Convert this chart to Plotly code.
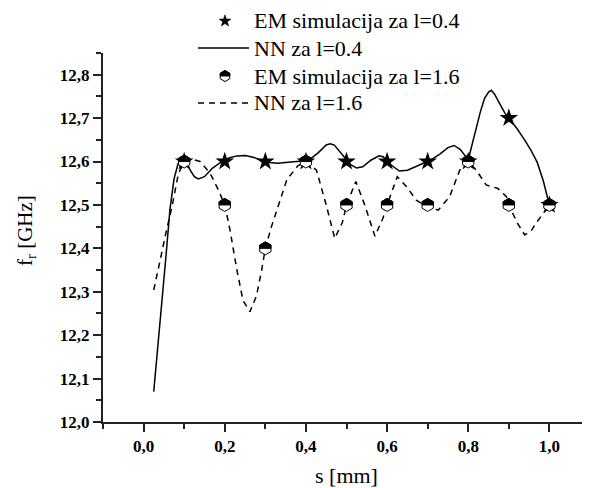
import math
import plotly.graph_objects as go

# EM simulation points
em_s = [0.1, 0.2, 0.3, 0.4, 0.5, 0.6, 0.7, 0.8, 0.9, 1.0]
em_l04 = [12.6, 12.6, 12.6, 12.6, 12.6, 12.6, 12.6, 12.6, 12.7, 12.5]
em_l16 = [12.6, 12.5, 12.4, 12.6, 12.5, 12.5, 12.5, 12.6, 12.5, 12.5]

# NN curve l=0.4
nn04_s = [0.025, 0.04, 0.055, 0.065, 0.075, 0.085, 0.095, 0.105, 0.115, 0.125,
          0.135, 0.15, 0.17, 0.19, 0.21, 0.23, 0.25, 0.27, 0.29, 0.31,
          0.33, 0.35, 0.37, 0.39, 0.41, 0.43, 0.45, 0.46, 0.47, 0.49,
          0.51, 0.525, 0.54, 0.56, 0.58, 0.59, 0.61, 0.63, 0.65, 0.67,
          0.69, 0.71, 0.73, 0.75, 0.765, 0.78, 0.80, 0.81, 0.82, 0.83,
          0.84, 0.85, 0.857, 0.865, 0.877, 0.89, 0.90, 0.92, 0.94, 0.955,
          0.97, 0.985, 1.0]
nn04_f = [12.07, 12.22, 12.38, 12.49, 12.56, 12.595, 12.605, 12.60, 12.58, 12.565,
          12.56, 12.565, 12.585, 12.598, 12.608, 12.613, 12.614, 12.61, 12.603, 12.598,
          12.596, 12.598, 12.600, 12.601, 12.605, 12.62, 12.638, 12.641, 12.638, 12.615,
          12.593, 12.585, 12.588, 12.603, 12.613, 12.611, 12.592, 12.578, 12.580, 12.588,
          12.596, 12.605, 12.617, 12.632, 12.637, 12.628, 12.604, 12.64, 12.68, 12.715,
          12.745, 12.76, 12.764, 12.755, 12.734, 12.712, 12.70, 12.676, 12.648, 12.625,
          12.598, 12.555, 12.5]

# NN curve l=1.6
nn16_s = [0.025, 0.033, 0.041, 0.053, 0.07, 0.086, 0.1, 0.12, 0.139, 0.164,
          0.184, 0.2, 0.213, 0.23, 0.245, 0.262, 0.278, 0.291, 0.3, 0.315,
          0.328, 0.353, 0.38, 0.4, 0.426, 0.45, 0.471, 0.49, 0.5, 0.523,
          0.545, 0.57, 0.59, 0.6, 0.625, 0.648, 0.672, 0.7, 0.726, 0.754,
          0.779, 0.8, 0.82, 0.844, 0.873, 0.894, 0.9, 0.92, 0.939, 0.955,
          0.967, 0.988, 1.0]
nn16_f = [12.304, 12.342, 12.373, 12.427, 12.496, 12.573, 12.598, 12.605, 12.6, 12.573,
          12.535, 12.5, 12.442, 12.35, 12.28, 12.254, 12.29, 12.35, 12.4, 12.45,
          12.488, 12.558, 12.59, 12.6, 12.58, 12.5, 12.423, 12.46, 12.5, 12.554,
          12.5, 12.428, 12.47, 12.5, 12.565, 12.542, 12.511, 12.495, 12.488, 12.519,
          12.58, 12.6, 12.58, 12.546, 12.538, 12.519, 12.5, 12.46, 12.431, 12.44,
          12.458, 12.484, 12.5]

x_ticks = [0.0, 0.2, 0.4, 0.6, 0.8, 1.0]
y_ticks = [12.0, 12.1, 12.2, 12.3, 12.4, 12.5, 12.6, 12.7, 12.8]

legend_names = ["EM simulacija za l=0.4", "NN za l=0.4", "EM simulacija za l=1.6", "NN za l=1.6"]

SERIF = "Liberation Serif"
HEX = 13

# the page body adds an 8px offset, so the figure is drawn 8px smaller than the window
OFF = 8
W, H = 582, 480
ML, MT, MB = 95, 45, 66
PW, PH = W - ML, H - MT - MB


def px(xp):          # window pixel x -> paper fraction
    return (xp - OFF - ML) / PW


def py(yp):          # window pixel y -> paper fraction
    return (H - MB - (yp - OFF)) / PH


legend_rows = [py(21), py(48), py(76), py(103)]

fig = go.Figure()
fig.add_trace(go.Scatter(x=nn04_s, y=nn04_f, mode="lines", name=legend_names[1],
                         line=dict(color="black", width=1.5), showlegend=False))
fig.add_trace(go.Scatter(x=nn16_s, y=nn16_f, mode="lines", name=legend_names[3],
                         line=dict(color="black", width=1.5, dash="6px,5px"), showlegend=False))
fig.add_trace(go.Scatter(x=em_s, y=em_l04, mode="markers", name=legend_names[0],
                         marker=dict(symbol="star", size=14, color="black", line=dict(width=0)),
                         showlegend=False))
fig.add_trace(go.Scatter(x=em_s, y=em_l16, mode="markers", name=legend_names[2],
                         marker=dict(symbol="hexagon", size=HEX, color="white",
                                     line=dict(color="black", width=1)), showlegend=False))


def half_hex(size):
    r = size / 2
    r3 = r * 3 ** 0.5 / 2
    return f"M{-r3:.2f},0 L{-r3:.2f},{r/2:.2f} L0,{r:.2f} L{r3:.2f},{r/2:.2f} L{r3:.2f},0 Z"


def full_hex(size):
    r = size / 2
    r3 = r * 3 ** 0.5 / 2
    return (f"M{-r3:.2f},{-r/2:.2f} L{-r3:.2f},{r/2:.2f} L0,{r:.2f} L{r3:.2f},{r/2:.2f} "
            f"L{r3:.2f},{-r/2:.2f} L0,{-r:.2f} Z")


def star_path(ro, ri):
    pts = []
    for k in range(10):
        ang = math.pi / 2 + k * math.pi / 5
        rr = ro if k % 2 == 0 else ri
        pts.append(f"{rr * math.cos(ang):.2f},{rr * math.sin(ang):.2f}")
    return "M" + " L".join(pts) + " Z"


# ---- custom legend ----
sym_x = px(225)
line_x0, line_x1 = px(198), px(249)
text_x = px(252)
fig.add_shape(type="path", xref="paper", yref="paper", xsizemode="pixel", ysizemode="pixel",
              xanchor=sym_x, yanchor=legend_rows[0], path=star_path(6.2, 2.5),
              fillcolor="black", line=dict(color="black", width=0.5))
fig.add_shape(type="line", xref="paper", yref="paper", x0=line_x0, x1=line_x1,
              y0=legend_rows[1], y1=legend_rows[1], line=dict(color="black", width=1.5))
fig.add_shape(type="path", xref="paper", yref="paper", xsizemode="pixel", ysizemode="pixel",
              xanchor=sym_x, yanchor=legend_rows[2], path=full_hex(11),
              fillcolor="white", line=dict(color="black", width=1))
fig.add_shape(type="path", xref="paper", yref="paper", xsizemode="pixel", ysizemode="pixel",
              xanchor=sym_x, yanchor=legend_rows[2], path=half_hex(11),
              fillcolor="black", line=dict(color="black", width=1))
fig.add_shape(type="line", xref="paper", yref="paper", x0=line_x0, x1=line_x1,
              y0=legend_rows[3], y1=legend_rows[3], line=dict(color="black", width=1.5, dash="6px,5px"))
for name, yy in zip(legend_names, legend_rows):
    fig.add_annotation(x=text_x, y=yy, xref="paper", yref="paper", text=name, showarrow=False,
                       xanchor="left", yanchor="middle",
                       font=dict(family=SERIF, size=22, color="black"))

for xs, ys in zip(em_s, em_l16):
    fig.add_shape(type="path", xref="x", yref="y", xsizemode="pixel", ysizemode="pixel",
                  xanchor=xs, yanchor=ys, path=half_hex(HEX),
                  fillcolor="black", line=dict(color="black", width=1), layer="above")

axis_common = dict(showline=True, linecolor="#222", linewidth=2, ticks="outside",
                   ticklen=8, tickwidth=1.5, tickcolor="#222", showgrid=False, zeroline=False,
                   mirror=False, automargin=False,
                   tickfont=dict(family=SERIF, size=17, color="black", weight="bold"))

fig.update_xaxes(range=[-0.1, 1.1], tickvals=x_ticks, tickformat=".1f",
                 minor=dict(dtick=0.1, ticks="outside", ticklen=5, tickwidth=1.5, tickcolor="#222"),
                 **axis_common)
fig.update_yaxes(range=[12.0, 12.85], tickvals=y_ticks, tickformat=".1f",
                 minor=dict(dtick=0.05, ticks="outside", ticklen=5, tickwidth=1.5, tickcolor="#222"),
                 **axis_common)

# axis titles
fig.add_annotation(x=px(346), y=py(475), xref="paper", yref="paper", text="s [mm]",
                   showarrow=False, xanchor="center", yanchor="middle",
                   font=dict(family=SERIF, size=22, color="black"))
fig.add_annotation(x=px(26), y=py(231), xref="paper", yref="paper", text="f<sub>r</sub> [GHz]",
                   showarrow=False, textangle=-90, xanchor="center", yanchor="middle",
                   font=dict(family=SERIF, size=21, color="black"))

fig.update_layout(
    width=W, height=H,
    margin=dict(l=ML, r=0, t=MT, b=MB, autoexpand=False),
    plot_bgcolor="white", paper_bgcolor="white",
    separators=",.",
    font=dict(family=SERIF, color="black"),
    showlegend=False,
)

fig.write_html("out.html")
